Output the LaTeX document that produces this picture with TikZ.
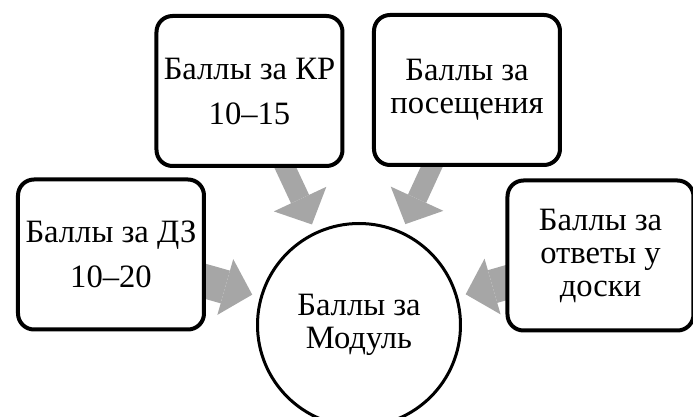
\documentclass[tikz,border=0pt]{standalone}
\usepackage{fontspec}
\setmainfont{Liberation Serif}
\usetikzlibrary{arrows.meta,backgrounds}
\definecolor{strelkacol}{HTML}{A6A6A6}
\tikzset{
  ballbox/.style={draw,line width=2pt,rounded corners=8pt,fill=white,minimum width=93pt,minimum height=75pt,inner sep=0pt,align=center,font=\fontsize{16.3}{16.5}\selectfont},
  modul/.style={draw,circle,line width=1.5pt,fill=white,minimum size=101.5pt,inner sep=0pt,align=center,font=\fontsize{16.3}{16.5}\selectfont},
  strelka/.style={draw=strelkacol,shorten <=-6pt,shorten >=4pt,-{Triangle[width=29pt,length=14pt,line width=0pt]}},
  tolstaya/.style={strelka,line width=17pt},
  tonkaya/.style={strelka,line width=10pt}
}
\begin{document}
\begin{tikzpicture}[x=0.5pt,y=-0.5pt,line join=round]
\useasboundingbox (0,0) rectangle (693,417);
\node[modul] (mod) at (359,325) {Баллы за\\Модуль};
\node[ballbox] (dz) at (111,254.5) {Баллы за ДЗ\\[6pt]10--20};
\node[ballbox] (kr) at (249.5,91) {Баллы за КР\\[6pt]10--15};
\node[ballbox] (pos) at (467,90) {Баллы за\\посещения};
\node[ballbox] (otv) at (600.5,255.5) {Баллы за\\ответы у\\доски};
\begin{scope}[on background layer]
\draw[tolstaya] (dz) -- (mod);
\draw[tonkaya] (kr) -- (mod);
\draw[tonkaya] (pos) -- (mod);
\draw[tolstaya] (otv) -- (mod);
\end{scope}
\end{tikzpicture}
\end{document}
